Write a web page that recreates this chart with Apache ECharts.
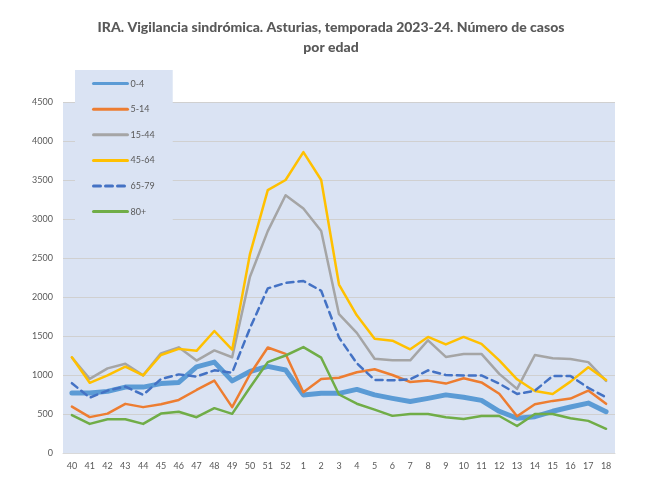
<!DOCTYPE html>
<html>
<head>
<meta charset="utf-8">
<script src="https://cdn.jsdelivr.net/npm/echarts@6/dist/echarts.min.js"></script>
<style>
html,body{margin:0;padding:0;background:#fff;}
#c{width:662px;height:494px;}
</style>
</head>
<body>
<div id="c"></div>
<script>
const weeks = ['40','41','42','43','44','45','46','47','48','49','50','51','52','1','2','3','4','5','6','7','8','9','10','11','12','13','14','15','16','17','18'];
const age0_4   = [770,770,790,845,845,890,905,1105,1165,925,1045,1110,1065,745,765,765,815,745,700,660,700,745,715,675,535,445,465,535,590,640,530];
const age5_14  = [595,460,505,630,588,625,680,808,928,588,1010,1352,1270,780,950,965,1035,1073,1000,910,928,890,958,905,760,472,625,668,698,800,630];
const age15_44 = [1225,950,1085,1145,995,1278,1355,1185,1315,1228,2260,2845,3305,3135,2845,1780,1540,1208,1188,1188,1445,1232,1270,1270,1015,822,1256,1214,1205,1165,925];
const age45_64 = [1228,900,995,1106,995,1256,1335,1310,1564,1325,2550,3370,3500,3858,3500,2160,1765,1465,1440,1330,1488,1392,1488,1400,1188,945,795,757,915,1100,936];
const age65_79 = [895,710,800,852,745,948,1008,980,1060,1030,1600,2110,2180,2205,2080,1480,1150,937,932,945,1060,1000,995,995,890,757,798,988,988,835,715];
const age80    = [485,373,433,433,373,505,528,459,575,502,840,1165,1250,1358,1222,750,632,556,476,500,500,458,436,474,474,346,500,500,446,412,310];
const yTicks = [0,500,1000,1500,2000,2500,3000,3500,4000,4500];

const chart = echarts.init(document.getElementById('c'), null, {renderer:'canvas'});
const txt = '#595959';
function mk(name, data, color, width, type){
  return {name, type:'line', data, symbol:'none', showSymbol:false, smooth:false,
    lineStyle:{color, width, type: type||'solid', cap:'round', join:'round'},
    itemStyle:{color}, z: 2};
}
chart.setOption({
  animation:false,
  backgroundColor:'#ffffff',
  title:{
    text:'IRA. Vigilancia sindrómica. Asturias, temporada 2023-24. Número de casos\npor edad',
    left:'center', top:12,
    textStyle:{fontFamily:'Lato, "Open Sans", sans-serif', fontWeight:900, fontSize:14, color:txt, lineHeight:20}
  },
  grid:{left:63, right:47, top:102, bottom:41, show:true, backgroundColor:'#dae3f3', borderWidth:0},
  legend:{
    orient:'vertical', left:75, top:70,
    backgroundColor:'#dae3f3',
    padding:[8,18,8,17],
    itemWidth:34, itemHeight:14, itemGap:14.4,
    itemStyle:{opacity:0},
    lineStyle:{width:3},
    textStyle:{fontFamily:'Lato, sans-serif', fontSize:9, color:txt, padding:[0,0,0,-2]},
    data:['0-4','5-14','15-44','45-64','65-79','80+']
  },
  xAxis:{
    type:'category', data:weeks, boundaryGap:true,
    axisLine:{show:true, lineStyle:{color:'#d9d9d9'}},
    axisTick:{show:false},
    axisLabel:{color:txt, fontSize:9, fontFamily:'Lato, sans-serif', interval:0, margin:9}
  },
  yAxis:{
    type:'value', min:yTicks[0], max:yTicks[yTicks.length-1], interval:500,
    axisLine:{show:false}, axisTick:{show:false},
    splitLine:{lineStyle:{color:'#d0d0d0', width:1}},
    axisLabel:{color:txt, fontSize:9, fontFamily:'Lato, sans-serif', margin:10, formatter:function(v){return String(v);}}
  },
  series:[
    mk('0-4', age0_4, '#5b9bd5', 5),
    mk('5-14', age5_14, '#ed7d31', 2.5),
    mk('15-44', age15_44, '#a5a5a5', 2.5),
    mk('45-64', age45_64, '#ffc000', 2.5),
    mk('65-79', age65_79, '#4472c4', 2.5, [7,5]),
    mk('80+', age80, '#70ad47', 2.5)
  ]
});
</script>
</body>
</html>
